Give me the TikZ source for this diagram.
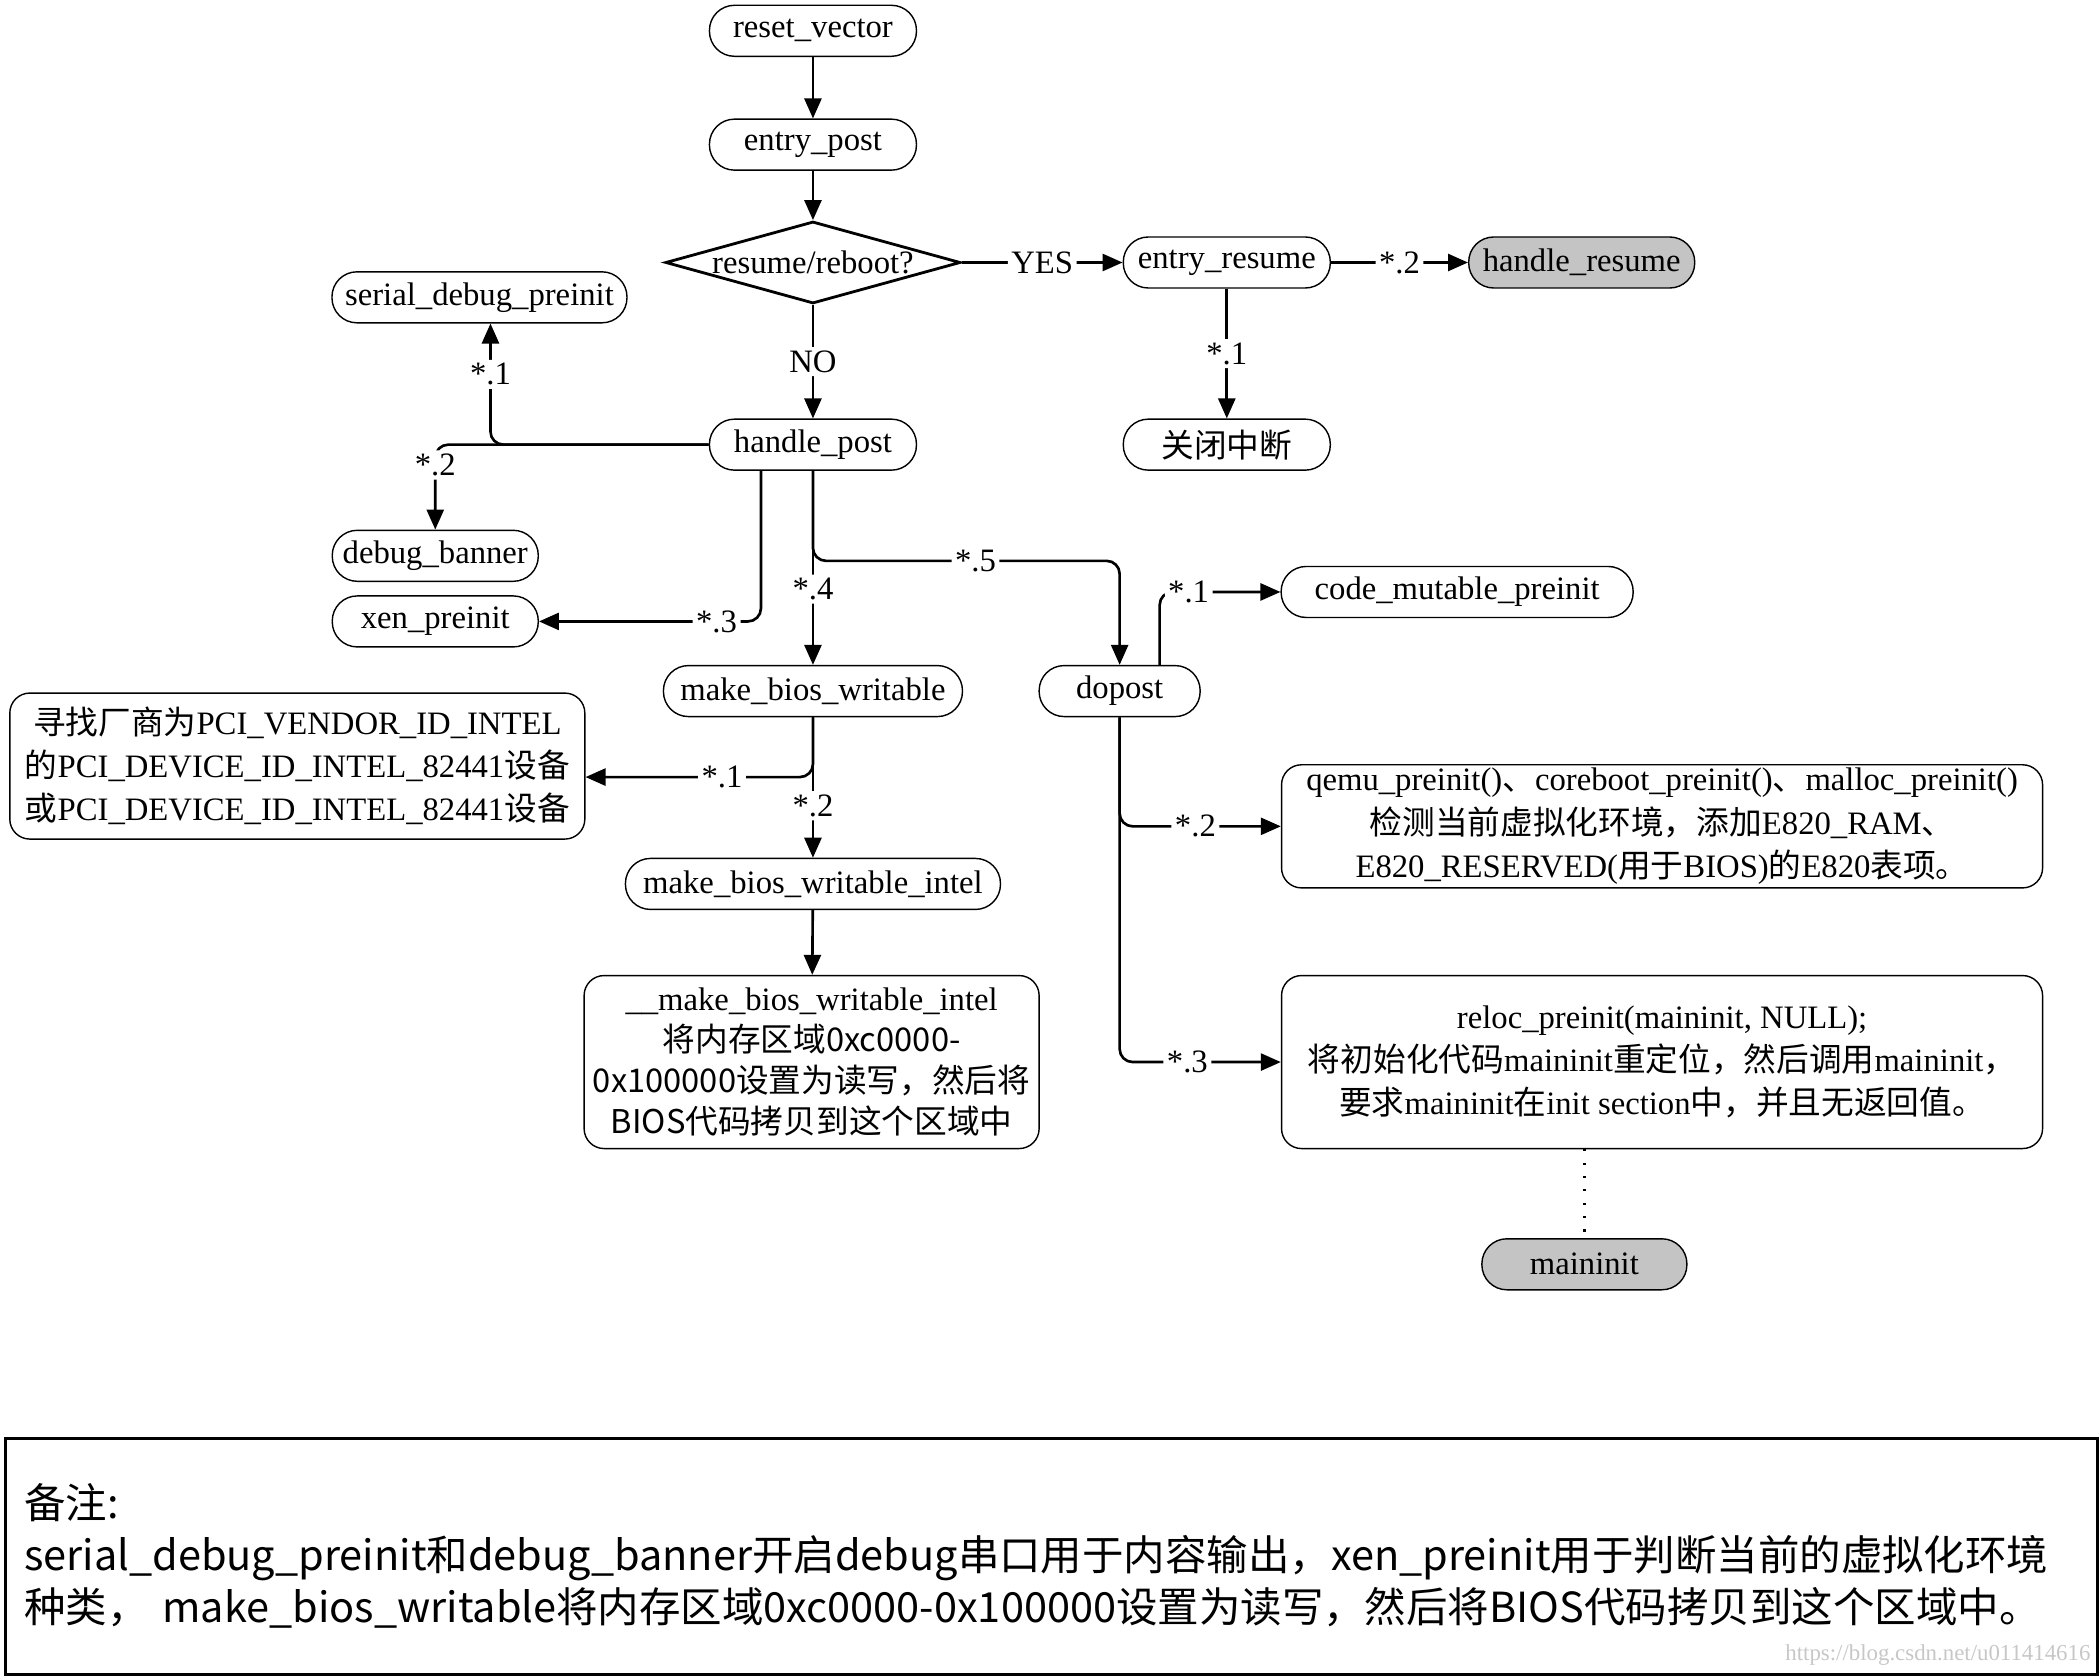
\documentclass[tikz,border=0pt]{standalone}
\usepackage{fontspec}
\setmainfont{Liberation Serif}
\newfontfamily\cjk{Noto Sans CJK SC}
\usetikzlibrary{arrows.meta,shapes.geometric}
\definecolor{boxgray}{RGB}{196,196,196}

\begin{document}
\begin{tikzpicture}[
    x=0.13393mm, y=-0.13393mm,
    font=\fontsize{9.3}{12.3}\selectfont,
    fn/.style={draw,line width=0.4pt,rounded corners=2.5mm,minimum height=5.1mm,inner sep=1pt},
    gfn/.style={fn,fill=boxgray},
    txt/.style={draw,line width=0.4pt,rounded corners=2mm,align=center,inner sep=1pt},
    dec/.style={draw,diamond,line width=0.8pt,inner sep=0pt},
    lbl/.style={fill=white,inner sep=1pt},
    flow/.style={->,line width=0.75pt,rounded corners=1.3mm},
    >={Triangle[length=2mm,width=1.7mm]}
]
\useasboundingbox (0,0) rectangle (1568,1253);

\node[fn,minimum width=20.7mm] (rv) at (607,23) {reset\_vector};
\node[fn,minimum width=20.7mm] (ep) at (607,108) {entry\_post};
\node[dec,minimum width=29.5mm,minimum height=8.2mm] (rr) at (607,196) {\makebox[0pt]{resume/reboot?}};
\node[fn,minimum width=20.7mm] (er) at (916,196) {entry\_resume};
\node[gfn,minimum width=22.6mm] (hr) at (1181,196) {handle\_resume};
\node[fn,minimum width=20.7mm] (gb) at (916,332) {\cjk 关闭中断};
\node[fn,minimum width=29.5mm] (sdp) at (358,222) {serial\_debug\_preinit};
\node[fn,minimum width=20.7mm] (hp) at (607,332) {handle\_post};
\node[fn,minimum width=20.6mm] (db) at (325,415) {debug\_banner};
\node[fn,minimum width=20.6mm] (xp) at (325,464) {xen\_preinit};
\node[fn,minimum width=29.9mm] (mbw) at (607,516) {make\_bios\_writable};
\node[fn,minimum width=16.1mm] (dp) at (836,516) {dopost};
\node[fn,minimum width=35.2mm] (cmp) at (1088,442) {code\_mutable\_preinit};
\node[txt,minimum width=57.5mm,minimum height=14.6mm] (pci) at (222,572)
    {{\cjk 寻找厂商为}PCI\_VENDOR\_ID\_INTEL\\
     {\cjk 的}PCI\_DEVICE\_ID\_INTEL\_82441{\cjk 设备}\\
     {\cjk 或}PCI\_DEVICE\_ID\_INTEL\_82441{\cjk 设备}};
\node[fn,minimum width=37.5mm] (mbwi) at (607,660) {make\_bios\_writable\_intel};
\node[txt,minimum width=45.5mm,minimum height=17.3mm,font=\fontsize{9.3}{11.6}\selectfont] (mbwi2) at (606,793)
    {\_\_make\_bios\_writable\_intel\\
     {\cjk 将内存区域0xc0000-}\\
     {\cjk 0x100000设置为读写，然后将}\\
     {\cjk BIOS代码拷贝到这个区域中}};
\node[txt,minimum width=76.1mm,minimum height=12.3mm] (qp) at (1241,617)
    {qemu\_preinit(){\cjk 、}coreboot\_preinit(){\cjk 、}malloc\_preinit()\\
     {\cjk 检测当前虚拟化环境，添加}E820\_RAM{\cjk 、}\\
     E820\_RESERVED({\cjk 用于}BIOS){\cjk 的}E820{\cjk 表项。}};
\node[txt,minimum width=76.1mm,minimum height=17.3mm] (rp) at (1241,793)
    {reloc\_preinit(maininit, NULL);\\
     {\cjk 将初始化代码}maininit{\cjk 重定位，然后调用}maininit{\cjk ，}\\
     {\cjk 要求}maininit{\cjk 在}init section{\cjk 中，并且无返回值。}};
\node[gfn,minimum width=20.5mm] (mi) at (1183,944) {maininit};

\node[draw,line width=1pt,minimum width=209.2mm,minimum height=23.6mm,
      text width=205.4mm,inner xsep=1.9mm,align=left,
      font=\cjk\fontsize{11.8}{14.8}\selectfont] (note) at (785,1162)
    {备注:\\
     serial\_debug\_preinit和debug\_banner开启debug串口用于内容输出，xen\_preinit用于判断当前的虚拟化环境\\
     种类，~make\_bios\_writable将内存区域0xc0000-0x100000设置为读写，然后将BIOS代码拷贝到这个区域中。};
\node[text=black!22,font=\fontsize{6.5}{7}\selectfont,anchor=south east,inner sep=1pt] (wm) at (1564,1247)
    {https://blog.csdn.net/u011414616};

\draw[flow] (rv) -- (ep);
\draw[flow] (ep) -- (rr);
\draw[flow] (rr) -- node[lbl]{YES} (er);
\draw[flow] (er) -- node[lbl]{*.2} (hr);
\draw[flow] (er) -- node[lbl]{*.1} (gb);
\draw[flow] (rr) -- node[lbl]{NO} (hp);
\draw[flow] (hp.west) -| node[lbl,pos=0.79]{*.1} ([xshift=1.1mm]sdp.south);
\draw[flow] (hp.west) -| node[lbl,pos=0.62]{*.2} (db.north);
\draw[flow] ([xshift=-5.2mm]hp.south) |- node[lbl,pos=0.6]{*.3} (xp.east);
\draw[flow] (hp) -- node[lbl,pos=0.61]{*.4} (mbw);
\draw[flow] (hp.south) |- node[lbl,pos=0.765]{*.5} ([yshift=10.4mm]dp.north) -- (dp.north);
\draw[flow] (mbw.south) |- node[lbl,pos=0.7]{*.1} ([yshift=-1.1mm]pci.east);
\draw[flow] (mbw) -- node[lbl,pos=0.63]{*.2} (mbwi);
\draw[flow] (mbwi) -- (mbwi2);
\draw[flow] ([xshift=4mm]dp.north) |- node[lbl,pos=0.62]{*.1} (cmp.west);
\draw[flow] (dp.south) |- node[lbl,pos=0.735]{*.2} (qp.west);
\draw[flow] (dp.south) |- node[lbl,pos=0.71]{*.3} (rp.west);
\draw[line width=0.8pt,dash pattern=on 0.6pt off 3.2pt] (mi.north |- rp.south) -- (mi.north);
\end{tikzpicture}
\end{document}
